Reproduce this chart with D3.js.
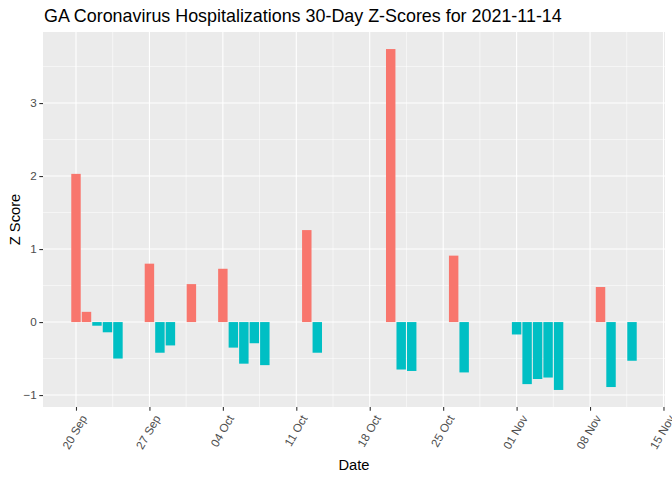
<!DOCTYPE html>
<html>
<head>
<meta charset="utf-8">
<script src="https://cdn.jsdelivr.net/npm/d3@7"></script>
<style>
  body { margin: 0; background: #fff; }
  text { font-family: Arial, "Liberation Sans", sans-serif; }
</style>
</head>
<body>
<svg id="chart"></svg>
<script>
const dates = ['2021-09-20', '2021-09-21', '2021-09-22', '2021-09-23', '2021-09-24',
  '2021-09-27', '2021-09-28', '2021-09-29', '2021-10-01',
  '2021-10-04', '2021-10-05', '2021-10-06', '2021-10-07', '2021-10-08',
  '2021-10-12', '2021-10-13', '2021-10-20', '2021-10-21', '2021-10-22',
  '2021-10-26', '2021-10-27', '2021-11-01', '2021-11-02', '2021-11-03',
  '2021-11-04', '2021-11-05', '2021-11-09', '2021-11-10', '2021-11-12']
const zScores = [2.03, 0.14, -0.05, -0.14, -0.50,
  0.80, -0.42, -0.32, 0.52,
  0.73, -0.35, -0.57, -0.29, -0.59,
  1.26, -0.42, 3.74, -0.65, -0.67,
  0.91, -0.69, -0.17, -0.85, -0.78,
  -0.76, -0.93, 0.48, -0.89, -0.53]
const xTicks = ['2021-09-20', '2021-09-27', '2021-10-04', '2021-10-11', '2021-10-18',
  '2021-10-25', '2021-11-01', '2021-11-08', '2021-11-15']
const yTicks = [-1, 0, 1, 2, 3]

const w = 672
const h = 480
const m = { top: 32, right: 7, bottom: 73, left: 43 }
const day = 864e5
const parse = d3.utcParse('%Y-%m-%d')

const data = dates.map((d, i) => ({ date: parse(d), z: zScores[i] }))

const svg = d3.select('#chart').attr('width', w).attr('height', h)

// ggplot style 5% expansion around the bars
const dMin = d3.min(data, d => +d.date) - 0.45 * day
const dMax = d3.max(data, d => +d.date) + 0.45 * day
const xPad = (dMax - dMin) * 0.05
const xScale = d3.scaleUtc()
                 .domain([new Date(dMin - xPad), new Date(dMax + xPad)])
                 .range([m.left, w - m.right])

const zMin = d3.min(zScores)
const zMax = d3.max(zScores)
const yPad = (zMax - zMin) * 0.05
const yScale = d3.scaleLinear()
                 .domain([zMin - yPad, zMax + yPad])
                 .range([h - m.bottom, m.top])

svg.append('rect')
   .attr('x', m.left).attr('y', m.top)
   .attr('width', w - m.left - m.right)
   .attr('height', h - m.top - m.bottom)
   .attr('fill', '#EBEBEB')

const grid = svg.append('g')
const xT = xTicks.map(parse)
const xMinor = xT.slice(0, -1).map(d => new Date(+d + 3.5 * day))
  .concat([new Date(+xT[0] - 3.5 * day)])
const yMinor = [-0.5, 0.5, 1.5, 2.5, 3.5]

grid.selectAll('.xminor').data(xMinor).enter().append('line')
    .attr('x1', d => xScale(d)).attr('x2', d => xScale(d))
    .attr('y1', m.top).attr('y2', h - m.bottom)
    .attr('stroke', '#fff').attr('stroke-width', 0.55)
grid.selectAll('.yminor').data(yMinor).enter().append('line')
    .attr('y1', d => yScale(d)).attr('y2', d => yScale(d))
    .attr('x1', m.left).attr('x2', w - m.right)
    .attr('stroke', '#fff').attr('stroke-width', 0.55)
grid.selectAll('.xmajor').data(xT).enter().append('line')
    .attr('x1', d => xScale(d)).attr('x2', d => xScale(d))
    .attr('y1', m.top).attr('y2', h - m.bottom)
    .attr('stroke', '#fff').attr('stroke-width', 1.1)
grid.selectAll('.ymajor').data(yTicks).enter().append('line')
    .attr('y1', d => yScale(d)).attr('y2', d => yScale(d))
    .attr('x1', m.left).attr('x2', w - m.right)
    .attr('stroke', '#fff').attr('stroke-width', 1.1)

const bw = xScale(new Date(+xT[0] + 0.9 * day)) - xScale(xT[0])
svg.append('g')
   .selectAll('rect')
   .data(data)
   .enter()
   .append('rect')
     .attr('x', d => xScale(d.date) - bw / 2)
     .attr('width', bw)
     .attr('y', d => yScale(Math.max(0, d.z)))
     .attr('height', d => Math.abs(yScale(d.z) - yScale(0)))
     .attr('fill', d => d.z > 0 ? '#F8766D' : '#00BFC4')

const xAxis = d3.axisBottom(xScale)
                .tickValues(xT)
                .tickSize(3.7)
                .tickPadding(2)
                .tickFormat(d3.utcFormat('%d %b'))
const gx = svg.append('g')
              .attr('transform', 'translate(0,' + (h - m.bottom) + ')')
              .call(xAxis)
gx.select('.domain').remove()
gx.selectAll('line').attr('stroke', '#333333').attr('stroke-width', 1.1)
gx.selectAll('text')
  .attr('fill', '#4D4D4D')
  .style('font-size', '11.7px')
  .attr('text-anchor', 'end')
  .attr('dy', '0.7em')
  .attr('y', 0)
  .attr('transform', 'translate(4,7) rotate(-60)')

const yAxis = d3.axisLeft(yScale)
                .tickValues(yTicks)
                .tickSize(3.7)
                .tickPadding(2.5)
                .tickFormat(d3.format('d'))
const gy = svg.append('g')
              .attr('transform', 'translate(' + m.left + ',0)')
              .call(yAxis)
gy.select('.domain').remove()
gy.selectAll('line').attr('stroke', '#333333').attr('stroke-width', 1.1)
gy.selectAll('text').attr('fill', '#4D4D4D').style('font-size', '11.7px')

svg.append('text')
   .attr('x', m.left + 1).attr('y', 22)
   .style('font-size', '17.9px')
   .attr('fill', '#000')
   .text('GA Coronavirus Hospitalizations 30-Day Z-Scores for 2021-11-14')

svg.append('text')
   .attr('x', (m.left + w - m.right) / 2).attr('y', 470)
   .attr('text-anchor', 'middle')
   .style('font-size', '14.7px')
   .text('Date')

svg.append('text')
   .attr('transform', 'translate(20,' + ((m.top + h - m.bottom) / 2) + ') rotate(-90)')
   .attr('text-anchor', 'middle')
   .style('font-size', '14.7px')
   .text('Z Score')
</script>
</body>
</html>
